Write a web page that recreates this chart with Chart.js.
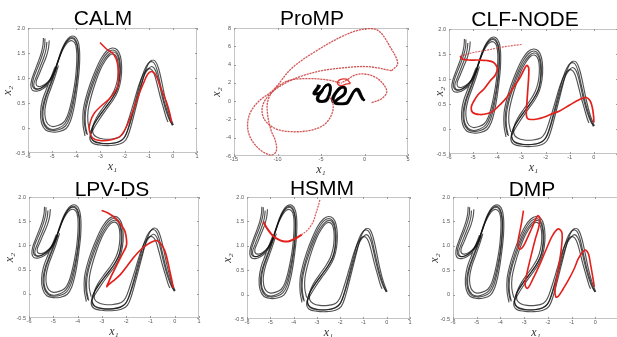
<!DOCTYPE html>
<html><head><meta charset="utf-8">
<script src="https://cdn.jsdelivr.net/npm/chart.js@4.4.0/dist/chart.umd.min.js"></script>
<style>
html,body{margin:0;padding:0;width:617px;height:337px;overflow:hidden;background:#fff;position:relative}
canvas{position:absolute}
.ttl{position:absolute;font-family:"Liberation Sans",Arial,sans-serif;font-size:21px;line-height:1;color:#000;transform:translateX(-50%);white-space:nowrap;z-index:5}
</style></head><body>
<div class="ttl" style="left:103px;top:7px">CALM</div>
<div class="ttl" style="left:312px;top:7px">ProMP</div>
<div class="ttl" style="left:525px;top:8px">CLF-NODE</div>
<div class="ttl" style="left:112px;top:178px">LPV-DS</div>
<div class="ttl" style="left:322px;top:177px">HSMM</div>
<div class="ttl" style="left:532px;top:178px">DMP</div>
<script>
// ---------- data ----------
const titles = ['CALM','ProMP','CLF-NODE','LPV-DS','HSMM','DMP'];
const xTicksDemo = [-6,-5,-4,-3,-2,-1,0,1];
const yTicksDemo = [-0.5,0,0.5,1,1.5,2];
const xTicksProMP = [-15,-10,-5,0,5];
const yTicksProMP = [-6,-4,-2,0,2,4,6,8];

// demonstrations (null = pen break)
const demo1 = [[-5.30,1.79],[-5.31,1.65],[-5.38,1.50],[-5.50,1.33],[-5.65,1.15],[-5.78,0.98],[-5.82,0.86],[-5.75,0.79],[-5.58,0.78],[-5.38,0.82],[-5.18,0.90],[-5.00,1.02],[-4.86,1.18],[-4.72,1.38],[-4.57,1.58],[-4.42,1.72],[-4.25,1.80],[-4.08,1.79],[-3.96,1.68],[-3.91,1.48],[-3.92,1.22],[-3.97,0.95],[-4.05,0.68],[-4.15,0.42],[-4.28,0.19],[-4.45,0.04],[-4.70,-0.03],[-4.98,-0.05],[-5.22,-0.01],[-5.38,0.12],[-5.42,0.32],[-5.33,0.55],[-5.16,0.78],[-4.98,1.00],[-4.83,1.20],null,
 [-3.58,-0.12],[-3.66,0.08],[-3.66,0.32],[-3.56,0.56],[-3.38,0.85],[-3.15,1.14],[-2.92,1.37],[-2.70,1.51],[-2.50,1.56],[-2.33,1.52],[-2.22,1.40],[-2.17,1.20],[-2.20,0.98],[-2.30,0.78],[-2.50,0.60],[-2.80,0.40],[-3.10,0.20],[-3.32,0.02],[-3.42,-0.14],[-3.30,-0.25],[-3.00,-0.30],[-2.60,-0.31],[-2.25,-0.28],[-2.02,-0.20],[-1.85,0.00],[-1.65,0.35],[-1.45,0.72],[-1.28,1.02],[-1.12,1.22],[-0.95,1.32],[-0.78,1.30],[-0.65,1.15],[-0.52,0.88],[-0.35,0.52],[-0.18,0.25],[-0.02,0.05]];
const demo2 = [[-5.12,1.75],[-5.15,1.60],[-5.24,1.43],[-5.40,1.24],[-5.56,1.05],[-5.66,0.93],[-5.64,0.85],[-5.50,0.83],[-5.31,0.87],[-5.11,0.96],[-4.94,1.09],[-4.79,1.28],[-4.63,1.49],[-4.47,1.64],[-4.31,1.73],[-4.15,1.74],[-4.03,1.67],[-3.98,1.50],[-3.99,1.24],[-4.04,0.97],[-4.13,0.70],[-4.24,0.45],[-4.37,0.24],[-4.53,0.11],[-4.76,0.05],[-5.00,0.03],[-5.18,0.08],[-5.28,0.19],[-5.30,0.36],[-5.21,0.58],[-5.04,0.81],[-4.88,1.03],[-4.74,1.25],null,
 [-3.44,-0.06],[-3.52,0.13],[-3.51,0.35],[-3.40,0.60],[-3.22,0.89],[-3.01,1.16],[-2.81,1.34],[-2.63,1.45],[-2.47,1.48],[-2.34,1.43],[-2.27,1.31],[-2.26,1.12],[-2.31,0.93],[-2.43,0.75],[-2.63,0.58],[-2.90,0.40],[-3.16,0.21],[-3.30,0.05],[-3.31,-0.10],[-3.16,-0.18],[-2.88,-0.22],[-2.52,-0.22],[-2.20,-0.18],[-2.02,-0.08],[-1.84,0.16],[-1.62,0.51],[-1.42,0.84],[-1.24,1.06],[-1.07,1.17],[-0.92,1.18],[-0.79,1.10],[-0.67,0.91],[-0.53,0.64],[-0.39,0.40],[-0.27,0.20],[-0.20,0.12]];
const demo3 = [[-5.22,1.72],[-5.25,1.58],[-5.34,1.42],[-5.50,1.22],[-5.66,1.02],[-5.76,0.88],[-5.72,0.80],[-5.56,0.78],[-5.36,0.83],[-5.16,0.92],[-4.99,1.05],[-4.84,1.22],[-4.69,1.43],[-4.54,1.61],[-4.37,1.74],[-4.19,1.79],[-4.04,1.74],[-3.94,1.58],[-3.93,1.32],[-3.97,1.05],[-4.05,0.77],[-4.16,0.50],[-4.30,0.25],[-4.48,0.08],[-4.72,0.00],[-4.98,-0.03],[-5.20,0.01],[-5.35,0.13],[-5.38,0.33],[-5.29,0.56],[-5.12,0.79],[-4.95,1.01],[-4.80,1.22],null,
 [-3.54,-0.14],[-3.62,0.06],[-3.62,0.30],[-3.52,0.55],[-3.33,0.84],[-3.10,1.13],[-2.88,1.34],[-2.67,1.47],[-2.49,1.52],[-2.34,1.49],[-2.24,1.37],[-2.20,1.17],[-2.23,0.95],[-2.33,0.76],[-2.53,0.58],[-2.82,0.39],[-3.12,0.19],[-3.34,0.01],[-3.40,-0.15],[-3.27,-0.27],[-2.96,-0.31],[-2.57,-0.31],[-2.22,-0.27],[-1.98,-0.17],[-1.78,0.08],[-1.56,0.45],[-1.36,0.80],[-1.18,1.06],[-1.02,1.18],[-0.87,1.23],[-0.73,1.16],[-0.60,0.96],[-0.45,0.64],[-0.28,0.34],[-0.12,0.14],[0.00,0.06]];
const demo4 = [[-5.36,1.80],[-5.38,1.66],[-5.45,1.50],[-5.58,1.32],[-5.73,1.13],[-5.85,0.96],[-5.88,0.83],[-5.80,0.75],[-5.60,0.74],[-5.40,0.78],[-5.20,0.86],[-5.03,0.98],[-4.90,1.14],[-4.76,1.35],[-4.61,1.56],[-4.45,1.72],[-4.27,1.82],[-4.07,1.83],[-3.92,1.72],[-3.86,1.50],[-3.87,1.22],[-3.93,0.93],[-4.01,0.64],[-4.11,0.37],[-4.24,0.14],[-4.42,-0.01],[-4.70,-0.07],[-5.00,-0.08],[-5.27,-0.04],[-5.44,0.10],[-5.48,0.32],[-5.40,0.56],[-5.22,0.80],[-5.04,1.02],[-4.88,1.22],null,
 [-3.64,-0.16],[-3.72,0.06],[-3.72,0.32],[-3.62,0.57],[-3.44,0.86],[-3.20,1.16],[-2.96,1.40],[-2.72,1.55],[-2.50,1.60],[-2.30,1.56],[-2.17,1.43],[-2.12,1.22],[-2.15,0.98],[-2.26,0.76],[-2.46,0.57],[-2.76,0.37],[-3.06,0.16],[-3.30,-0.03],[-3.44,-0.18],[-3.33,-0.30],[-3.02,-0.34],[-2.60,-0.35],[-2.20,-0.32],[-1.95,-0.24],[-1.78,-0.04],[-1.58,0.32],[-1.38,0.70],[-1.21,1.02],[-1.06,1.24],[-0.90,1.35],[-0.72,1.33],[-0.58,1.17],[-0.45,0.90],[-0.30,0.55],[-0.14,0.26],[0.02,0.06]];

// reproductions
const calmRed = [[-3.02,1.71],[-2.75,1.58],[-2.45,1.47],[-2.30,1.30],[-2.26,1.05],[-2.30,0.82],[-2.60,0.60],[-2.95,0.45],[-3.25,0.30],[-3.42,0.12],[-3.46,-0.05],[-3.32,-0.20],[-3.02,-0.25],[-2.60,-0.24],[-2.20,-0.17],[-1.95,0.00],[-1.64,0.36],[-1.40,0.68],[-1.22,0.89],[-1.05,1.07],[-0.88,1.13],[-0.70,1.05],[-0.50,0.80],[-0.25,0.50],[-0.12,0.28],[-0.05,0.11]];
const prompRed1 = [[3.12,3.33],[3.81,4.13],[2.93,5.96],[1.59,7.71],[0.06,7.89],[-2.24,7.23],[-5.69,5.41],[-8.37,3.59],[-10.48,1.22],[-12.2,-0.06],[-13.24,-1.52],[-13.36,-3.34],[-12.39,-4.98],[-10.86,-5.89],[-10.17,-5.53],[-10.21,-4.44],[-10.75,-3.16],[-11.13,-1.52],[-11.13,-0.06],[-10.48,1.14],[-8.76,2.24],[-6.46,2.46],[-4.16,2.31],[-2.62,1.95]];
const prompRed2 = [[3.12,3.33],[0.44,3.77],[-2.24,3.66],[-4.92,3.33],[-7.22,2.75],[-9.14,1.95],[-10.86,0.78],[-11.74,-0.61],[-11.51,-1.99],[-10.29,-2.98],[-8.37,-3.34],[-6.07,-3.16],[-4.54,-2.5],[-3.70,-1.26],[-3.66,-0.06],[-4.08,0.49]];
const prompRed3 = [[0.82,-0.17],[1.97,0.27],[2.55,0.96],[2.24,1.76],[1.28,2.60],[-0.02,2.97],[-1.09,2.86],[-2.05,2.31],[-2.62,2.02]];
const prompRed4 = [[-1.6,1.95],[-2.1,2.4],[-2.8,2.35],[-3.1,1.95],[-2.7,1.7],[-2.1,1.85],[-1.6,1.95]];
const clfRedStart = [[-2.99,1.69],[-3.5,1.66],[-4.0,1.62],[-4.5,1.57],[-4.99,1.53],[-5.3,1.49],[-5.54,1.46]];
const clfRed = [[-5.54,1.46],[-5.45,1.40],[-5.20,1.38],[-4.80,1.38],[-4.44,1.37],[-4.15,1.33],[-4.00,1.22],[-4.08,1.08],[-4.30,0.96],[-4.55,0.80],[-4.79,0.69],[-4.98,0.55],[-5.08,0.43],[-5.02,0.33],[-4.72,0.29],[-4.40,0.31],[-4.17,0.36],[-3.90,0.48],[-3.61,0.63],[-3.30,0.85],[-3.06,1.03],[-2.90,1.18],[-2.78,1.27],[-2.70,1.22],[-2.70,1.05],[-2.73,0.83],[-2.77,0.55],[-2.80,0.30],[-2.75,0.21],[-2.60,0.19],[-2.35,0.20],[-2.11,0.23],[-1.75,0.30],[-1.42,0.36],[-1.00,0.48],[-0.59,0.59],[-0.31,0.63],[-0.15,0.56],[-0.06,0.42],[-0.01,0.25],[0.00,0.13]];
const lpvRed = [[-3.01,1.72],[-2.75,1.67],[-2.46,1.57],[-2.20,1.42],[-2.05,1.29],[-1.98,1.10],[-2.00,0.98],[-2.18,0.80],[-2.40,0.58],[-2.60,0.38],[-2.74,0.22],[-2.80,0.15],[-2.70,0.20],[-2.45,0.30],[-2.25,0.39],[-1.95,0.58],[-1.71,0.74],[-1.42,0.90],[-1.15,1.01],[-0.90,1.08],[-0.74,1.10],[-0.55,1.02],[-0.40,0.88],[-0.28,0.65],[-0.20,0.46],[-0.12,0.28],[-0.06,0.12]];
const hsmmRedStart = [[-2.87,1.94],[-2.95,1.80],[-3.05,1.65],[-3.15,1.50],[-3.30,1.38],[-3.45,1.30],[-3.65,1.23]];
const hsmmRed = [[-3.65,1.23],[-3.95,1.14],[-4.23,1.09],[-4.50,1.10],[-4.70,1.14],[-4.90,1.21],[-5.10,1.33],[-5.22,1.42],[-5.30,1.50]];
const dmpRed = [[-3.03,1.72],[-3.10,1.50],[-3.17,1.32],[-3.25,1.12],[-3.26,1.00],[-3.17,0.93],[-3.05,0.98],[-2.90,1.12],[-2.68,1.36],[-2.50,1.56],[-2.42,1.62],[-2.33,1.55],[-2.40,1.35],[-2.54,1.12],[-2.68,0.85],[-2.82,0.57],[-2.93,0.32],[-2.95,0.18],[-2.85,0.13],[-2.65,0.30],[-2.32,0.64],[-2.05,0.95],[-1.83,1.19],[-1.62,1.33],[-1.51,1.34],[-1.40,1.25],[-1.42,1.00],[-1.50,0.70],[-1.60,0.40],[-1.70,0.10],[-1.66,-0.05],[-1.55,-0.03],[-1.35,0.12],[-1.13,0.30],[-0.90,0.52],[-0.71,0.74],[-0.52,0.88],[-0.39,0.91],[-0.28,0.82],[-0.20,0.62],[-0.12,0.40],[-0.04,0.16]];

// ---------- helpers ----------
const RED = '#e3201b';
function pts(a){ return a.map(p => p ? {x:p[0], y:p[1]} : {x:null, y:null}); }
function ds(a, color, w, dash, tension){
  return {data: pts(a), showLine:true, borderColor:color, borderWidth:w, pointRadius:0,
          borderDash: dash || [], fill:false, tension: tension===undefined?0.35:tension, spanGaps:false};
}
function demos(w, c){
  c = c || 'rgba(15,15,15,0.72)';
  return [ds(demo1,c,w), ds(demo2,c,w), ds(demo3,c,w), ds(demo4,c,w)];
}
const boxPlugin = {
  id:'boxPlugin',
  beforeDatasetsDraw(chart){
    const {ctx, chartArea:a, scales:{x, y}} = chart;
    ctx.save();
    ctx.strokeStyle = '#c4c4c4'; ctx.lineWidth = 1;
    ctx.strokeRect(Math.round(a.left)+0.5, Math.round(a.top)+0.5, Math.round(a.right-a.left)-1, Math.round(a.bottom-a.top)-1);
    ctx.strokeStyle = '#9a9a9a';
    ctx.beginPath();
    x.ticks.forEach(t => { const px = Math.round(x.getPixelForValue(t.value))+0.5;
      ctx.moveTo(px, a.bottom); ctx.lineTo(px, a.bottom-2); ctx.moveTo(px, a.top); ctx.lineTo(px, a.top+2); });
    y.ticks.forEach(t => { const py = Math.round(y.getPixelForValue(t.value))+0.5;
      ctx.moveTo(a.left, py); ctx.lineTo(a.left+2, py); ctx.moveTo(a.right, py); ctx.lineTo(a.right-2, py); });
    ctx.stroke();
    ctx.restore();
  }
};
function panel(box, xr, yr, datasets, ytPad){
  const yW = 30, padT = 6, padR = 8, xH = 22;
  const c = document.createElement('canvas');
  const w = Math.round(box.r - box.l) + yW + padR;
  const h = Math.round(box.b - box.t) + padT + xH;
  c.width = w; c.height = h;
  c.style.width = w + 'px'; c.style.height = h + 'px';
  c.style.left = (box.l - yW) + 'px'; c.style.top = (box.t - padT) + 'px';
  document.body.appendChild(c);
  const tickFont = {family:'"Liberation Sans", Arial, sans-serif', size:5.5};
  const titleFont = {family:'"Liberation Serif", "DejaVu Serif", serif', size:12, style:'italic'};
  new Chart(c, {
    type:'scatter',
    data:{datasets},
    options:{
      responsive:false, animation:false, devicePixelRatio:1,
      layout:{padding:{left:0, top:padT, right:padR, bottom:0}},
      plugins:{legend:{display:false}, tooltip:{enabled:false}, title:{display:false}},
      scales:{
        x:{type:'linear', min:xr[0], max:xr[xr.length-1],
           afterBuildTicks(s){ s.ticks = xr.map(v => ({value:v})); },
           ticks:{font:tickFont, color:'#555', padding:0.5, autoSkip:false, maxRotation:0},
           grid:{drawOnChartArea:false, drawTicks:false}, border:{display:false},
           title:{display:true, text:'x₁', font:titleFont, color:'#333', padding:{top:0, bottom:1}},
           afterFit(s){ s.height = xH; s.paddingLeft = 0; s.paddingRight = 0; }},
        y:{type:'linear', min:yr[0], max:yr[yr.length-1],
           afterBuildTicks(s){ s.ticks = yr.map(v => ({value:v})); },
           ticks:{font:tickFont, color:'#555', padding:3, autoSkip:false},
           grid:{drawOnChartArea:false, drawTicks:false}, border:{display:false},
           title:{display:true, text:'x₂', font:titleFont, color:'#333', padding:{top:ytPad, bottom:0}},
           afterFit(s){ s.width = yW; s.paddingTop = 0; s.paddingBottom = 0; }}
      }
    },
    plugins:[boxPlugin]
  });
}

// ---------- panels ----------
const PROMP_RED = 'rgba(205,70,70,0.9)';
panel({l:28, t:28, r:197, b:153}, xTicksDemo, yTicksDemo,
  [ds(calmRed, RED, 1.5)].concat(demos(1.15)), 2.8);
panel({l:234, t:28, r:408, b:156}, xTicksProMP, yTicksProMP,
  [ds(prompRed4, 'rgba(225,40,40,0.95)', 1.3, [], 0.4),
   ds(prompRed1, PROMP_RED, 1.3, [2.2,0.8]),
   ds(prompRed2, PROMP_RED, 1.3, [2.2,0.8]),
   ds(prompRed3, PROMP_RED, 1.3, [2.2,0.8])].concat(demos(2.0, 'rgba(0,0,0,0.85)')), 5.5);
panel({l:449, t:29, r:618, b:154}, xTicksDemo, yTicksDemo,
  [ds(clfRed, RED, 1.7), ds(clfRedStart, 'rgba(210,80,80,0.9)', 1.2, [2,1])].concat(demos(1.15)), 14);
panel({l:29, t:197, r:199, b:318}, xTicksDemo, yTicksDemo,
  [ds(lpvRed, RED, 1.7)].concat(demos(1.15)), 3.8);
panel({l:247, t:197, r:410, b:319}, xTicksDemo, yTicksDemo,
  [ds(hsmmRed, RED, 2.0), ds(hsmmRedStart, 'rgba(215,70,70,0.9)', 1.2, [2,1])].concat(demos(1.15)), 3.8);
panel({l:453, t:197, r:619, b:319}, xTicksDemo, yTicksDemo,
  [ds(dmpRed, RED, 1.6)].concat(demos(1.15)), 4.8);
</script>
</body></html>
